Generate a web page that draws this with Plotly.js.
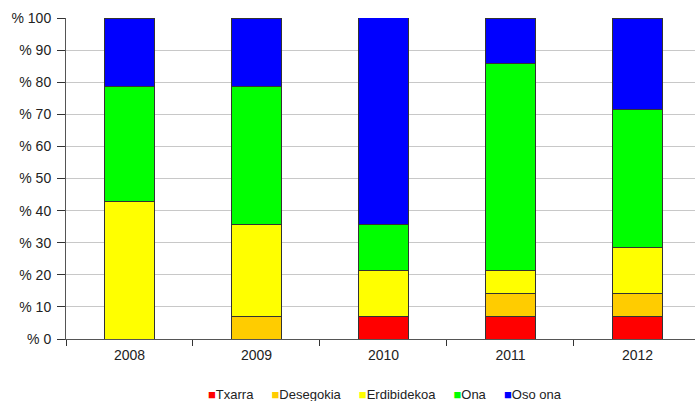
<!DOCTYPE html>
<html><head><meta charset="utf-8">
<script src="https://cdn.plot.ly/plotly-3.0.1.min.js"></script>
<style>html,body{margin:0;padding:0;overflow:hidden;background:#fff}</style>
</head><body>
<div id="chart" style="width:695px;height:401px"></div>
<script>
const years = ["2008", "2009", "2010", "2011", "2012"];
const seriesNames = ["Txarra", "Desegokia", "Erdibidekoa", "Ona", "Oso ona"];
const txarra = [0, 0, 7.14, 7.14, 7.14];
const desegokia = [0, 7.14, 0, 7.14, 7.14];
const erdibidekoa = [42.86, 28.57, 14.29, 7.14, 14.29];
const ona = [35.71, 42.86, 14.29, 64.29, 42.86];
const osoOna = [21.43, 21.43, 64.29, 14.29, 28.57];
const colors = ["#FF0000", "#FFCC00", "#FFFF00", "#00FF00", "#0000FF"];
const yTickVals = [0, 10, 20, 30, 40, 50, 60, 70, 80, 90, 100];
const yTickText = yTickVals.map(v => "% " + v);

const allSeries = [txarra, desegokia, erdibidekoa, ona, osoOna];
const traces = allSeries.map((vals, i) => ({
  type: "bar",
  name: seriesNames[i],
  x: years,
  y: vals,
  width: 0.39,
  marker: {color: colors[i], line: {color: "#333333", width: 1}},
  hoverinfo: "skip"
}));

// legend drawn as one text line: coloured square glyph + name
const legendText = seriesNames.map((n, i) =>
  "<span style='color:" + colors[i] + "'>■</span>" + n).join("&nbsp;&nbsp;&nbsp;&nbsp;&nbsp;");

const layout = {
  barmode: "stack",
  width: 695, height: 401,
  margin: {l: 66, r: 0, t: 18, b: 62},
  paper_bgcolor: "#fff", plot_bgcolor: "#fff",
  font: {family: "Liberation Sans, Arial, sans-serif", size: 14, color: "#222"},
  showlegend: false,
  annotations: [{
    xref: "paper", yref: "paper", x: 0.507, y: -0.173, xanchor: "center", yanchor: "middle",
    text: legendText, showarrow: false, font: {size: 13, color: "#222"}
  }],
  xaxis: {type: "category", range: [-0.5, 4.453], tickson: "boundaries",
          ticks: "outside", ticklen: 6, tickcolor: "#333", showgrid: false,
          showline: true, linecolor: "#555", linewidth: 1, tickfont: {size: 14},
          ticklabelstandoff: 3},
  yaxis: {range: [0, 100], tickvals: yTickVals, ticktext: yTickText,
          ticks: "outside", ticklen: 8, tickcolor: "#333", showline: true,
          linecolor: "#555", linewidth: 1, gridcolor: "#c8c8c8", gridwidth: 1,
          zeroline: false, tickfont: {size: 14}, ticklabelstandoff: 3}
};
Plotly.newPlot("chart", traces, layout, {displayModeBar: false, staticPlot: true});
</script>
</body></html>
